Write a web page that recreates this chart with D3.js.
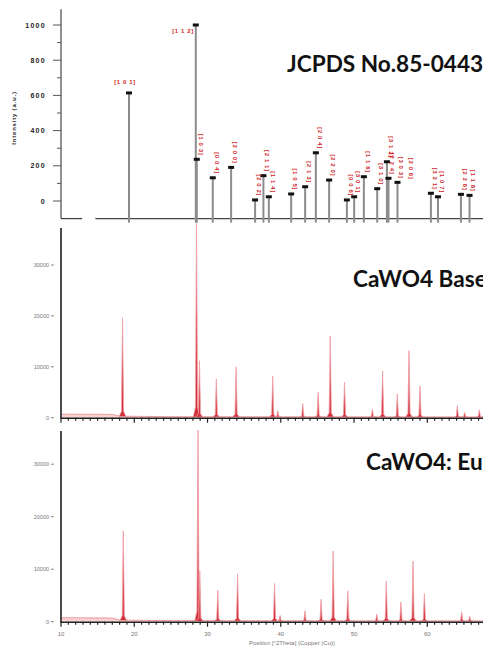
<!DOCTYPE html>
<html>
<head>
<meta charset="utf-8">
<script src="https://cdn.jsdelivr.net/npm/d3@7"></script>
<style>
  body { margin: 0; background: #fff; }
  svg { display: block; }
</style>
</head>
<body>
<div id="chart"></div>
<script>
// JCPDS 85-0443 reference sticks (2theta, relative intensity, hkl)
var refPos = [18.60, 28.71, 28.86, 31.28, 34.06, 37.69, 38.95, 39.77, 43.15, 45.27, 46.89, 48.90,
              51.59, 52.69, 54.16, 56.18, 57.65, 57.89, 59.25, 60.72, 64.31, 65.38, 68.86, 70.16];
var refInt = [614, 1000, 237, 132, 191, 6, 144, 24, 40, 81, 274, 119,
              6, 24, 138, 70, 223, 129, 106, null, 44, 24, 38, 32];
var refHkl = ["[1 0 1]", "[1 1 2]", "[1 0 3]", "[0 0 4]", "[2 0 0]", "[2 0 2]", "[2 1 1]", "[1 1 4]",
              "[1 0 5]", "[2 1 3]", "[2 0 4]", "[2 2 0]", "[0 0 6]", "[3 0 1]", "[1 1 6]", "[3 1 0]",
              "[3 1 2]", "[2 2 4]", "[3 0 3]", "[2 0 6]", "[3 2 1]", "[1 0 7]", "[2 2 6]", "[1 1 8]"];
var refTicks = [0, 200, 400, 600, 800, 1000];

// measured patterns: peak positions (2theta) and counts
var basePos = [18.4, 28.5, 28.9, 31.2, 33.9, 38.9, 39.6, 43.0, 45.1, 46.75, 48.7, 52.5, 53.9, 55.9, 57.5, 59.0, 64.1, 65.1, 67.1];
var baseInt = [19300, 38000, 11000, 7400, 9800, 8000, 1200, 2600, 4800, 15900, 6800, 1500, 9000, 4500, 13000, 6100, 2200, 900, 1400];
var euPos = [18.5, 28.7, 28.95, 31.4, 34.1, 39.15, 39.9, 43.3, 45.5, 47.15, 49.15, 53.1, 54.4, 56.4, 58.05, 59.6, 64.7, 65.8];
var euInt = [17000, 36300, 9500, 5800, 8900, 7100, 1000, 1900, 4100, 13300, 5700, 1300, 7600, 3600, 11400, 5200, 1700, 900];

// background counts
var bgPos = [10, 17, 18, 25, 70];
var baseBg = [700, 650, 300, 200, 150];
var euBg = [750, 700, 300, 200, 150];

var countTicks = [0, 10000, 20000, 30000];
var posTicks = [10, 20, 30, 40, 50, 60];

var w = 483, h = 647;

var svg = d3.select("#chart").append("svg")
    .attr("width", w)
    .attr("height", h);

// ---------- top panel : JCPDS sticks ----------
var xTop = d3.scaleLinear().domain([8.3, 72.2]).range([61, 483]);
var yTop = d3.scaleLinear().domain([0, 1000]).range([201, 25]);

var topG = svg.append("g");

// y axis
topG.append("line")
    .attr("x1", 61).attr("x2", 61)
    .attr("y1", yTop(1090)).attr("y2", yTop(-100))
    .attr("stroke", "#555").attr("stroke-width", 1.3);

var minorTop = d3.range(100, 1000, 200);
topG.selectAll(".minT").data(minorTop).enter().append("line")
    .attr("x1", 57).attr("x2", 61)
    .attr("y1", function(d) { return yTop(d); })
    .attr("y2", function(d) { return yTop(d); })
    .attr("stroke", "#555").attr("stroke-width", 1);

topG.selectAll(".majT").data(refTicks).enter().append("line")
    .attr("x1", 53).attr("x2", 61)
    .attr("y1", function(d) { return yTop(d); })
    .attr("y2", function(d) { return yTop(d); })
    .attr("stroke", "#555").attr("stroke-width", 1);

topG.selectAll(".labT").data(refTicks).enter().append("text")
    .attr("x", 46)
    .attr("y", function(d) { return yTop(d) + 2.5; })
    .attr("text-anchor", "end")
    .attr("font-family", "Liberation Sans, Arial, sans-serif")
    .attr("font-size", "7px")
    .attr("font-weight", "bold")
    .attr("letter-spacing", "1.3px")
    .attr("fill", "#222")
    .text(function(d) { return d; });

topG.append("text")
    .attr("transform", "translate(16,118) rotate(-90)")
    .attr("text-anchor", "middle")
    .attr("font-family", "Liberation Sans, Arial, sans-serif")
    .attr("font-size", "6px")
    .attr("font-weight", "bold")
    .attr("letter-spacing", "0.8px")
    .attr("fill", "#222")
    .text("Intensity (a.u.)");

// x axis (with a break near the origin)
topG.append("line")
    .attr("x1", 61).attr("x2", xTop(11.5))
    .attr("y1", yTop(-100)).attr("y2", yTop(-100))
    .attr("stroke", "#444").attr("stroke-width", 1.3);
topG.append("line")
    .attr("x1", xTop(13.5)).attr("x2", w)
    .attr("y1", yTop(-100)).attr("y2", yTop(-100))
    .attr("stroke", "#444").attr("stroke-width", 1.3);

var sticks = refPos.map(function(p, i) {
    return { pos: p, val: refInt[i], hkl: refHkl[i] };
});

topG.selectAll(".stick").data(sticks.filter(function(d) { return d.val !== null; }))
    .enter().append("line")
    .attr("x1", function(d) { return xTop(d.pos); })
    .attr("x2", function(d) { return xTop(d.pos); })
    .attr("y1", yTop(-100) + 4)
    .attr("y2", function(d) { return yTop(d.val); })
    .attr("stroke", "#8c8c8c")
    .attr("stroke-width", 2);

topG.selectAll(".cap").data(sticks.filter(function(d) { return d.val !== null; }))
    .enter().append("rect")
    .attr("x", function(d) { return xTop(d.pos) - 3; })
    .attr("y", function(d) { return yTop(d.val) - 1.5; })
    .attr("width", 6)
    .attr("height", 3)
    .attr("fill", "#111");

topG.selectAll(".hkl").data(sticks).enter().append("text")
    .attr("font-family", "Liberation Sans, Arial, sans-serif")
    .attr("font-size", "6px")
    .attr("font-weight", "bold")
    .attr("fill", "#d01f2a")
    .attr("letter-spacing", "0.6px")
    .attr("text-anchor", function(d, i) { return i === 0 ? "middle" : "end"; })
    .attr("dominant-baseline", "middle")
    .attr("transform", function(d, i) {
        var x = xTop(d.pos);
        var yv = yTop(d.val === null ? 100 : d.val);
        if (i === 0) return "translate(" + (x - 4) + "," + (yv - 11) + ")";
        if (i === 1) return "translate(" + (x - 2) + "," + (yv + 6) + ")";
        return "translate(" + (x + 3.5) + "," + (yv - 4) + ") rotate(90)";
    })
    .text(function(d) { return d.hkl; });

topG.append("text")
    .attr("x", 287).attr("y", 72)
    .attr("font-family", "Lato, sans-serif")
    .attr("font-size", "22.6px")
    .attr("font-weight", "bold")
    .attr("fill", "#111")
    .text("JCPDS No.85-0443");

// ---------- XRD panels ----------
var x = d3.scaleLinear().domain([10, 60]).range([61, 427.3]);

function drawPattern(pos, vals, bg, y0, y10k, axisTop, title, titleX, titleY, showLabels) {
    var y = d3.scaleLinear().domain([0, 10000]).range([y0, y10k]);
    var bgScale = d3.scaleLinear().domain(bgPos).range(bg);
    var g = svg.append("g");

    // background hump
    var bgArea = d3.area()
        .x(function(d) { return x(d); })
        .y0(y(0))
        .y1(function(d) { return y(bgScale(d)); });
    var bgLine = d3.line()
        .x(function(d) { return x(d); })
        .y(function(d) { return y(bgScale(d)); });
    g.append("path").datum(bgPos)
        .attr("d", bgArea)
        .attr("fill", "#f9d3d3");
    g.append("path").datum(bgPos)
        .attr("d", bgLine)
        .attr("fill", "none")
        .attr("stroke", "#f09a9a")
        .attr("stroke-width", 1);

    // peaks
    var peakLine = d3.line()
        .x(function(d) { return x(d[0]); })
        .y(function(d) { return y(d[1]); });
    var peaks = pos.map(function(p, i) { return { pos: p, val: vals[i] }; });
    g.selectAll(".peak").data(peaks).enter().append("path")
        .attr("d", function(d) {
            var b = bgScale(d.pos);
            return peakLine([
                [d.pos - 0.45, b],
                [d.pos - 0.15, b + 0.05 * d.val],
                [d.pos, b + d.val],
                [d.pos + 0.15, b + 0.05 * d.val],
                [d.pos + 0.45, b]
            ]);
        })
        .attr("fill", "#d4303a")
        .attr("stroke", "#f0a0a6")
        .attr("stroke-width", 0.8)
        .attr("stroke-linejoin", "round");

    // y axis
    g.append("line")
        .attr("x1", 61).attr("x2", 61)
        .attr("y1", axisTop).attr("y2", y(0) + 1)
        .attr("stroke", "#4a4a4a").attr("stroke-width", 2);
    g.selectAll(".yt").data(countTicks).enter().append("line")
        .attr("x1", 51).attr("x2", 54)
        .attr("y1", function(d) { return y(d); })
        .attr("y2", function(d) { return y(d); })
        .attr("stroke", "#888").attr("stroke-width", 1);
    g.selectAll(".yl").data(countTicks).enter().append("text")
        .attr("x", 49)
        .attr("y", function(d) { return y(d) + 2; })
        .attr("text-anchor", "end")
        .attr("font-family", "Liberation Sans, Arial, sans-serif")
        .attr("font-size", "5.5px")
        .attr("fill", "#777")
        .text(function(d) { return d; });

    // x axis
    g.append("line")
        .attr("x1", 61).attr("x2", w)
        .attr("y1", y(0) + 0.5).attr("y2", y(0) + 0.5)
        .attr("stroke", "#222").attr("stroke-width", 1.5);
    g.selectAll(".xm").data(d3.range(10, 68, 1)).enter().append("line")
        .attr("x1", function(d) { return x(d); })
        .attr("x2", function(d) { return x(d); })
        .attr("y1", y(0))
        .attr("y2", function(d) { return y(0) + (d % 10 === 0 ? 5 : 3); })
        .attr("stroke", "#222").attr("stroke-width", 1.2);

    if (showLabels) {
        g.selectAll(".xl").data(posTicks).enter().append("text")
            .attr("x", function(d) { return x(d); })
            .attr("y", y(0) + 14)
            .attr("text-anchor", "middle")
            .attr("font-family", "Liberation Sans, Arial, sans-serif")
            .attr("font-size", "6px")
            .attr("fill", "#777")
            .text(function(d) { return d; });
        g.append("text")
            .attr("x", 292).attr("y", y(0) + 23)
            .attr("text-anchor", "middle")
            .attr("font-family", "Liberation Sans, Arial, sans-serif")
            .attr("font-size", "6px")
            .attr("fill", "#777")
            .text("Position [\u00b02Theta] (Copper (Cu))");
    }

    g.append("text")
        .attr("x", titleX).attr("y", titleY)
        .attr("font-family", "Lato, sans-serif")
        .attr("font-size", "22.6px")
        .attr("font-weight", "bold")
        .attr("fill", "#111")
        .text(title);
}

drawPattern(basePos, baseInt, baseBg, 417.7, 366.8, 228, "CaWO4 Base", 353, 287, false);
drawPattern(euPos, euInt, euBg, 621.7, 569.2, 431, "CaWO4: Eu", 366, 470, true);
</script>
</body>
</html>
